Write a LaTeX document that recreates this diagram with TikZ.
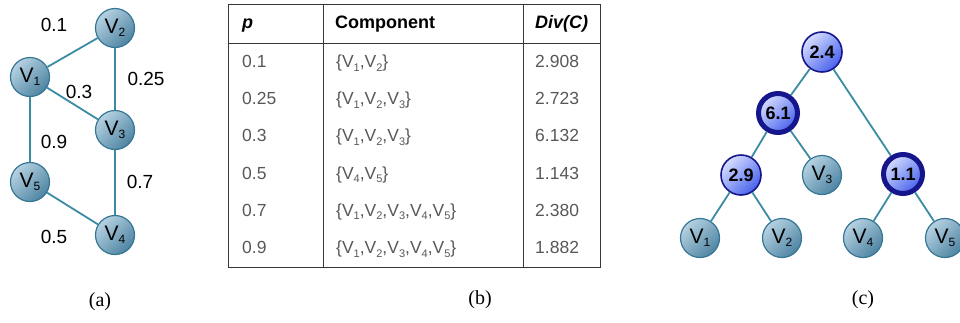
\documentclass[tikz,border=0pt]{standalone}
\usepackage{fontspec}
\setmainfont{Liberation Sans}
\newfontfamily\capfont{Liberation Serif}
\definecolor{vlight}{RGB}{182,210,226}
\definecolor{vdark}{RGB}{78,132,162}
\definecolor{vborder}{RGB}{52,118,148}
\definecolor{edgecol}{RGB}{58,140,165}
\definecolor{tlight}{RGB}{215,222,255}
\definecolor{tdark}{RGB}{72,98,236}
\definecolor{tborder}{RGB}{22,22,140}
\definecolor{tabtext}{RGB}{88,88,88}
\definecolor{tabline}{RGB}{55,55,55}
% lowered index digit for vertex names
\newcommand\vsub[1]{\raisebox{-3.5pt}{\fontsize{12}{12}\selectfont #1}}
\newcommand\tsub[1]{\raisebox{-3.5pt}{\fontsize{11}{11}\selectfont #1}}
\begin{document}
\begin{tikzpicture}[x=1pt,y=-1pt,
  vnode/.style={circle,minimum size=39pt,inner sep=0pt,draw=vborder,line width=1.2pt,
    top color=vlight,bottom color=vdark,shading angle=45,
    font=\fontsize{21}{21}\selectfont},
  inode/.style={circle,minimum size=40pt,inner sep=0pt,draw=tborder,line width=1.6pt,
    top color=tlight,bottom color=tdark,shading angle=45,
    font=\bfseries\fontsize{18}{18}\selectfont},
  heavy/.style={inode,minimum size=39pt,line width=5pt},
  link/.style={draw=edgecol,line width=1.8pt},
  wlabel/.style={font=\fontsize{19}{19}\selectfont},
  caption/.style={font=\capfont\fontsize{20}{20}\selectfont},
  cell/.style={anchor=west,inner sep=0pt,text height=13pt,text depth=4pt,
    text=tabtext,font=\fontsize{17.5}{17.5}\selectfont},
  head/.style={cell,text=black,font=\bfseries\fontsize{18}{18}\selectfont},
  rule/.style={draw=tabline,line width=0.9pt}]
\useasboundingbox (0,0) rectangle (960,322);

% ---------- (a) weighted graph ----------
\node[vnode] (a2) at (115,28) {V\vsub{2}};
\node[vnode] (a1) at (30,77) {V\vsub{1}};
\node[vnode] (a3) at (115,130) {V\vsub{3}};
\node[vnode] (a5) at (30,182) {V\vsub{5}};
\node[vnode] (a4) at (115,235) {V\vsub{4}};
\draw[link] (a1) -- (a2);
\draw[link] (a2) -- (a3);
\draw[link] (a1) -- (a3);
\draw[link] (a1) -- (a5);
\draw[link] (a3) -- (a4);
\draw[link] (a5) -- (a4);
\node[wlabel] (w1) at (54,25) {0.1};
\node[wlabel] (w2) at (146,79) {0.25};
\node[wlabel] (w3) at (79,92) {0.3};
\node[wlabel] (w4) at (54,142) {0.9};
\node[wlabel] (w5) at (140,182) {0.7};
\node[wlabel] (w6) at (54,237) {0.5};
\node[caption] (capa) at (100,302) {(a)};

% ---------- (b) table ----------
\draw[rule] (228,4) rectangle (600,267);
\draw[rule] (228,43) -- (600,43);
\draw[rule] (323,4) -- (323,267);
\draw[rule] (523,4) -- (523,267);
\node[head] (hp) at (242,24) {\itshape p};
\node[head] (hc) at (335,24) {Component};
\node[head] (hd) at (535,24) {\itshape Div(C)};
\foreach \i/\p/\c/\d in {
  0/0.1/{\{V\tsub{1},V\tsub{2}\}}/2.908,
  1/0.25/{\{V\tsub{1},V\tsub{2},V\tsub{3}\}}/2.723,
  2/0.3/{\{V\tsub{1},V\tsub{2},V\tsub{3}\}}/6.132,
  3/0.5/{\{V\tsub{4},V\tsub{5}\}}/1.143,
  4/0.7/{\{V\tsub{1},V\tsub{2},V\tsub{3},V\tsub{4},V\tsub{5}\}}/2.380,
  5/0.9/{\{V\tsub{1},V\tsub{2},V\tsub{3},V\tsub{4},V\tsub{5}\}}/1.882}{
  \node[cell] (p\i) at (242,63+37.2*\i) {\p};
  \node[cell] (c\i) at (336,63+37.2*\i) {\c};
  \node[cell] (d\i) at (535,63+37.2*\i) {\d};
}
\node[caption] (capb) at (480,300) {(b)};

% ---------- (c) dendrogram ----------
\node[inode] (r) at (822,52) {2.4};
\node[heavy] (n61) at (778,113) {6.1};
\node[inode] (n29) at (741,175) {2.9};
\node[vnode] (t3) at (822,175) {V\vsub{3}};
\node[heavy] (n11) at (903,174) {1.1};
\node[vnode] (t1) at (700,238) {V\vsub{1}};
\node[vnode] (t2) at (782,238) {V\vsub{2}};
\node[vnode] (t4) at (863,238) {V\vsub{4}};
\node[vnode] (t5) at (945,238) {V\vsub{5}};
\draw[link] (r) -- (n61);
\draw[link] (r) -- (n11);
\draw[link] (n61) -- (n29);
\draw[link] (n61) -- (t3);
\draw[link] (n29) -- (t1);
\draw[link] (n29) -- (t2);
\draw[link] (n11) -- (t4);
\draw[link] (n11) -- (t5);
\node[caption] (capc) at (863,300) {(c)};
\end{tikzpicture}
\end{document}
